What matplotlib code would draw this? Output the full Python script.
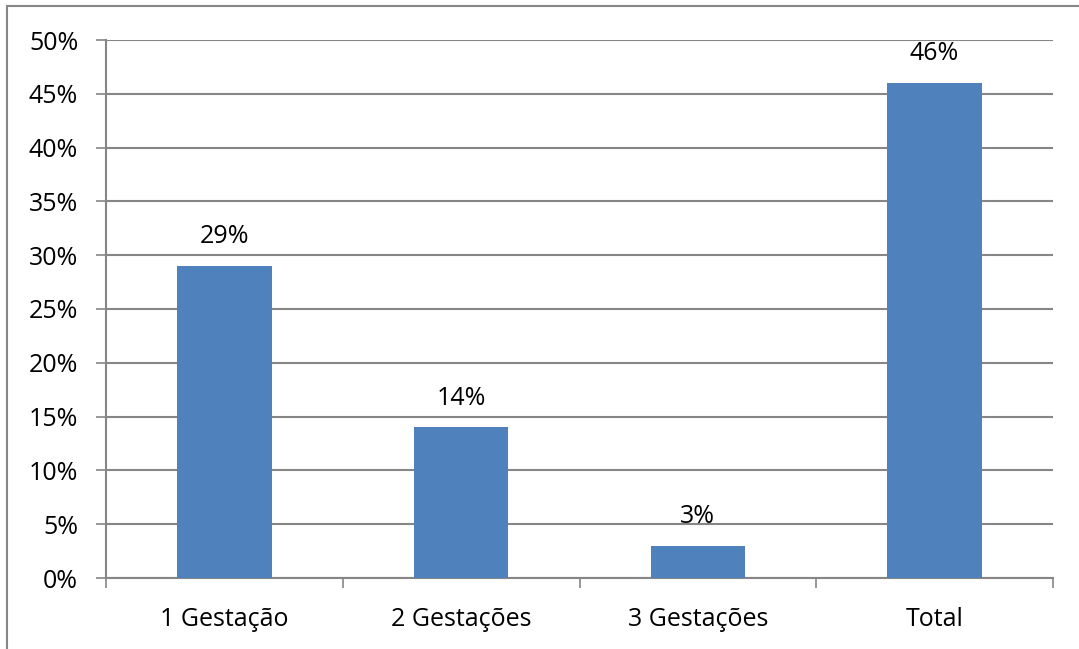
import matplotlib.pyplot as plt
from matplotlib.patches import Rectangle
import numpy as np

categorias = ["1 Gestação", "2 Gestações", "3 Gestações", "Total"]
valores = [29, 14, 3, 46]
rotulos = ["29%", "14%", "3%", "46%"]
yticks = [0, 5, 10, 15, 20, 25, 30, 35, 40, 45, 50]

cinza = "#868686"
plt.rc("font", family="Open Sans", size=18)

fig = plt.figure(figsize=(10.79, 6.49), dpi=100)
ax = fig.add_axes([106 / 1079, 1 - 578 / 649, (1053 - 106) / 1079, (578 - 40) / 649])

x = np.arange(len(categorias))
barras = ax.bar(x, valores, width=0.4, color="#4F81BD", zorder=3)

for b, r in zip(barras, rotulos):
    ax.annotate(r, (b.get_x() + b.get_width() / 2, b.get_height()),
                xytext=(0, 21), textcoords="offset points",
                ha="center", va="center", zorder=4)

ax.set_xlim(-0.5, len(categorias) - 0.5)
ax.set_ylim(0, 50)
ax.set_yticks(yticks)
ax.set_yticklabels([f"{v}%" for v in yticks])
ax.yaxis.grid(True, color=cinza, linewidth=1.5, zorder=0)

ax.set_xticks(x)
ax.set_xticklabels(categorias)
ax.set_xticks(np.arange(len(categorias) + 1) - 0.5, minor=True)
ax.tick_params(axis="x", which="major", length=0, pad=21)
ax.tick_params(axis="x", which="minor", length=7, width=1.2, color=cinza)
ax.tick_params(axis="y", length=7, width=1.2, color=cinza, pad=13)

for s in ["top", "right"]:
    ax.spines[s].set_visible(False)
for s in ["left", "bottom"]:
    ax.spines[s].set_color(cinza)
    ax.spines[s].set_linewidth(1.5)

# moldura (só as bordas de cima e da esquerda ficam visíveis)
fig.patches.append(Rectangle((7, -200), 1200, 649 - 6 + 200, transform=None,
                             fill=False, edgecolor=cinza, linewidth=1.5))

fig.savefig("out.png", dpi=100)
